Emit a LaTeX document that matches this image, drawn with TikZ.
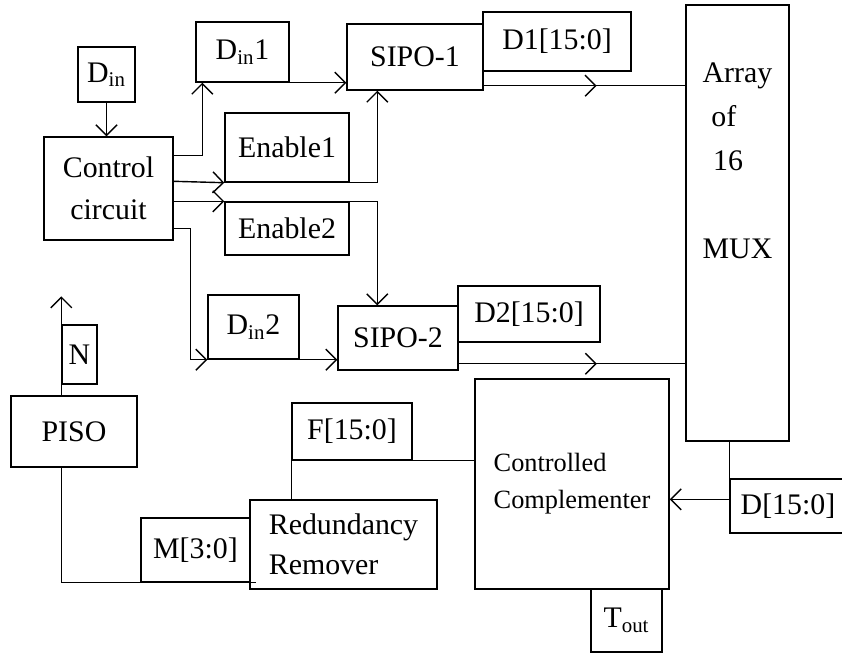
\documentclass[tikz,border=0pt]{standalone}
\usepackage{fontspec}
\setmainfont{Liberation Serif}
\usetikzlibrary{arrows.meta,calc,decorations.markings}

\tikzset{
  blk/.style={draw, rectangle, inner sep=0pt, line width=0.8pt,
    font=\fontsize{17}{19}\selectfont},
  sz/.style 2 args={minimum width=#1*0.02cm, minimum height=#2*0.02cm},
  wire/.style={line width=0.8pt},
  midarrow/.style={postaction={decorate}, decoration={markings,
      mark=at position #1 with {\arrow{>}}}},
  >={Straight Barb[length=6pt,width=12pt]}
}

\begin{document}
\begin{tikzpicture}[x={(0.02cm,0cm)}, y={(0cm,-0.02cm)}]
  \useasboundingbox (0,0) rectangle (842,657);

  % input side
  \node[blk, sz={57}{55}] (din) at (106.5,74.5) {D\textsubscript{in}};
  \node[blk, sz={129}{103}, align=center, font=\fontsize{17}{24}\selectfont]
  (ctrl) at (108.5,188.5) {Control\\circuit};
  \node[blk, sz={93}{60}] (din1) at (242.5,52) {D\textsubscript{in}1};
  \node[blk, sz={124}{69}] (en1) at (287,147.5) {Enable1};
  \node[blk, sz={124}{53}] (en2) at (287,228.5) {Enable2};
  \node[blk, sz={91}{64}] (din2) at (253.5,327) {D\textsubscript{in}2};

  % shift registers
  \node[blk, sz={136}{66}] (sipo1) at (415,57) {SIPO-1};
  \node[blk, sz={148}{59}] (d1) at (557,41.5) {D1[15:0]};
  \node[blk, sz={120}{64}] (sipo2) at (398,338) {SIPO-2};
  \node[blk, sz={142}{56}] (d2) at (529,314) {D2[15:0]};

  % mux
  \node[blk, sz={103}{436},
  label={[font=\fontsize{17}{25}\selectfont, align=left, anchor=north,
    yshift=-1.05cm]north:{Array\\\hspace{5pt}of\\\hspace{6pt}16\\[25pt]MUX}}]
  (mux) at (737.5,223) {};

  % output side
  \node[blk, sz={194}{210}, align=left, font=\fontsize{15}{21}\selectfont]
  (comp) at (572,484) {Controlled\\Complementer};
  \node[blk, sz={71}{63}] (tout) at (626.5,620.5) {T\textsubscript{out}};
  \node[blk, sz={116}{54}] (dbus) at (788,506) {D[15:0]};
  \node[blk, sz={120}{57}] (fbox) at (352,431.5) {F[15:0]};
  \node[blk, sz={187}{89}, align=left, font=\fontsize{17}{23}\selectfont]
  (rr) at (343.5,544.5) {Redundancy\\Remover};
  \node[blk, sz={109}{64}] (mbox) at (195.5,550) {M[3:0]};
  \node[blk, sz={126}{71}] (piso) at (74,431.5) {PISO};
  \node[blk, sz={35}{59}] (nbox) at (79.5,354.5) {N};

  % control outputs
  \draw[wire,->] (din.south) -- (din.south |- ctrl.north);
  \draw[wire,->] ($(ctrl.north east)+(0,19)$) -| ($(din1.south west)+(7,0)$);
  \draw[wire,->] (din1.south east) -- (din1.south east -| sipo1.west);
  \coordinate (bus) at ($(sipo1.south west)+(31,0)$);
  \draw[wire,->] ($(ctrl.north east)+(0,45)$) -- (en1.south west);
  \draw[wire,->] (en1.south west) -| (bus);
  \draw[wire,->] ($(ctrl.north east)+(0,65)$) -- (en2.north west);
  \draw[wire,->] (en2.north west) -| (bus |- sipo2.north);
  \draw[wire,->] ($(ctrl.north east)+(0,92)$) -- ++(17,0) |- (din2.south west);
  \draw[wire,->] (din2.south east) -- (din2.south east -| sipo2.west);

  % data into mux
  \coordinate (q1) at ($(sipo1.south east)+(0,-5)$);
  \coordinate (q2) at ($(sipo2.south east)+(0,-7)$);
  \draw[wire, midarrow=0.56] (q1) -- (q1 -| mux.west);
  \draw[wire, midarrow=0.61] (q2) -- (q2 -| mux.west);

  % mux to complementer
  \coordinate (q3) at ($(dbus.north west)+(0,21)$);
  \draw[wire] (dbus.north west |- mux.south) -- (dbus.north west);
  \draw[wire,->] (q3) -- (q3 -| comp.east);

  % redundancy remover, piso
  \draw[wire] (fbox.south east) -- (fbox.south east -| comp.west);
  \draw[wire] (fbox.south west) -- (fbox.south west |- rr.north);
  \draw[wire] ($(mbox.south east)+(5,0)$) -- (mbox.south west)
  -| (nbox.south west |- piso.south);
  \draw[wire,->] (nbox.south west |- piso.north) -- ++(0,-99);

\end{tikzpicture}
\end{document}
